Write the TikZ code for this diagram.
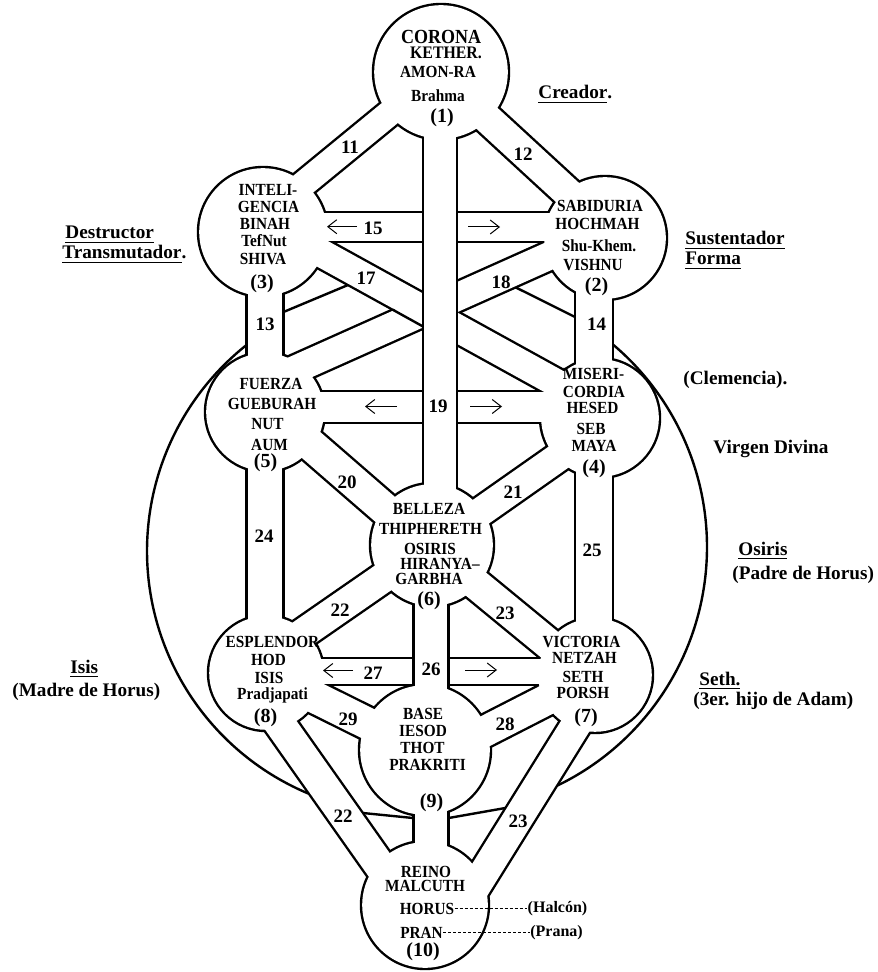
\documentclass[tikz,border=0pt]{standalone}
\usepackage{fontspec}
\setmainfont{Liberation Serif}
\newfontfamily\sefont{Liberation Serif}[FakeStretch=0.9]
\usetikzlibrary{arrows.meta}
\tikzset{
  sef/.style={font=\sefont\bfseries\fontsize{8.5}{10}\selectfont, inner sep=0pt, anchor=base},
  sefbig/.style={sef, font=\sefont\bfseries\fontsize{10}{12}\selectfont},
  sefmid/.style={sef, font=\sefont\bfseries\fontsize{8.8}{10}\selectfont},
  num/.style={font=\bfseries\fontsize{10}{12}\selectfont, inner sep=0pt, anchor=base},
  chan/.style={font=\bfseries\fontsize{9.5}{11}\selectfont, inner sep=0pt, anchor=base},
  side/.style={font=\bfseries\fontsize{9.6}{11}\selectfont, inner sep=0pt, anchor=base west},
  smalllab/.style={font=\bfseries\fontsize{8}{10}\selectfont, inner sep=0pt, anchor=base},
  outl/.style={line width=1.2pt, black},
  harrow/.style={line width=0.5pt, -{Straight Barb[length=4.5pt,width=7pt]}},
  leader/.style={line width=0.5pt, dash pattern=on 1.5pt off 1pt},
}
\begin{document}
\begin{tikzpicture}[x=0.5pt,y=-0.5pt]
\useasboundingbox (0,0) rectangle (877,972);
\fill[white] (0,0) rectangle (877,972);

% ---------- black pass (outline of the union) ----------
\foreach \cx/\cy/\rad in {441/72/68, 605/238/62, 263/232/65, 600/418/60, 265/412/60,
                          432/545/62, 595/675/58, 266/673/58, 425/750/66, 425/905/64}{
  \pgfmathsetmacro\rr{\rad*0.5+0.6}
  \fill[black] (\cx,\cy) circle[radius=\rr pt];
}
\foreach \xa/\ya/\xb/\yb/\bw in {440/72/440/545/34, 431/545/431/905/35,
   265/232/265/673/37, 594/238/594/675/38,
   263/227/605/227/30, 265/407/600/407/32, 266/671.5/595/671.5/27,
   441/71/262/218/28, 441/76/605/227/32,
   263/221/600/407/30, 605/231/265/383/30,
   265/405/432/550/34, 600/428/432/546/31,
   432/544/266/659/32, 432/548/595/682/33,
   595/675/425/762/33, 266/673/425/752/34,
   244/673/404/900/33, 607/675/464/905/32}{
  \pgfmathsetmacro\ww{\bw*0.5+1.2}
  \draw[black, line width=\ww pt] (\xa,\ya) -- (\xb,\yb);
}

% ---------- lines lying outside the union ----------
\draw[outl] plot[domain=111:234, samples=100, smooth] ({410+263*cos(\x)},{551+263*sin(\x)});
\draw[outl] plot[domain=-52:65, samples=100, smooth] ({442+265*cos(\x)},{547+265*sin(\x)});
\draw[outl] (278,314.3) -- (353.5,282.7);
\draw[outl] (510.3,284.7) -- (580.4,319.7);
\draw[outl] (357,812.4) -- (419,818.6);
\draw[outl] (443,819) -- (511,807);

% ---------- white pass ----------
\foreach \cx/\cy/\rad in {441/72/68, 605/238/62, 263/232/65, 600/418/60, 265/412/60,
                          432/545/62, 595/675/58, 266/673/58, 425/750/66, 425/905/64}{
  \pgfmathsetmacro\rr{\rad*0.5-0.6}
  \fill[white] (\cx,\cy) circle[radius=\rr pt];
}
\foreach \xa/\ya/\xb/\yb/\bw in {440/72/440/545/34, 431/545/431/905/35,
   265/232/265/673/37, 594/238/594/675/38,
   263/227/605/227/30, 265/407/600/407/32, 266/671.5/595/671.5/27,
   441/71/262/218/28, 441/76/605/227/32,
   263/221/600/407/30, 605/231/265/383/30,
   265/405/432/550/34, 600/428/432/546/31,
   432/544/266/659/32, 432/548/595/682/33,
   595/675/425/762/33, 266/673/425/752/34,
   244/673/404/900/33, 607/675/464/905/32}{
  \pgfmathsetmacro\ww{\bw*0.5-1.2}
  \draw[white, line width=\ww pt] (\xa,\ya) -- (\xb,\yb);
}

% ---------- lines drawn over the channels ----------
\draw[outl] (423,137.6) -- (423,483.7);
\draw[outl] (457,138.1) -- (457,488.3);
\draw[outl] (413.5,604.2) -- (413.5,685);
\draw[outl] (448.5,604.8) -- (448.5,688.3);
\draw[outl] (392.5,309.6) -- (423,326.5);

% ---------- arrows in channels 15, 19, 27 ----------
\draw[harrow] (357,226.7) -- (327,226.7);
\draw[harrow] (468,227) -- (500,227);
\draw[harrow] (397,406.5) -- (365,406.5);
\draw[harrow] (470,406.5) -- (502,406.5);
\draw[harrow] (353,670.5) -- (323,670.5);
\draw[harrow] (465,670) -- (497,670);

% ---------- sephiroth texts ----------
\node[sefbig] (t1a) at (441,43.1) {CORONA};
\node[sefmid] (t1b) at (446,58.8) {KETHER.};
\node[sef] (t1c) at (438,77.6) {AMON-RA};
\node[sef] (t1d) at (438,101.6) {Brahma};
\node[num] (t1e) at (442,122.6) {(1)};

\node[sef] (t3a) at (268,195.6) {INTELI-};
\node[sef] (t3b) at (268.5,212.6) {GENCIA};
\node[sef] (t3c) at (265,229.6) {BINAH};
\node[sef] (t3d) at (264,246.6) {TefNut};
\node[sef] (t3e) at (263,264.1) {SHIVA};
\node[num] (t3f) at (262,288.1) {(3)};

\node[sef] (t2a) at (600,211.1) {SABIDURIA};
\node[sef] (t2b) at (597.5,229.6) {HOCHMAH};
\node[sef] (t2c) at (599,251.1) {Shu-Khem.};
\node[sef] (t2d) at (593,270.1) {VISHNU};
\node[num] (t2e) at (596.5,291.6) {(2)};

\node[sef] (t5a) at (271,389.6) {FUERZA};
\node[sef] (t5b) at (272,409.6) {GUEBURAH};
\node[sef] (t5c) at (267.5,429.6) {NUT};
\node[sef] (t5d) at (269.5,450.1) {AUM};
\node[num] (t5e) at (265.5,467.6) {(5)};

\node[sef] (t4a) at (593.5,379.6) {MISERI-};
\node[sef] (t4b) at (594,397.1) {CORDIA};
\node[sef] (t4c) at (592.5,413.1) {HESED};
\node[sef] (t4d) at (591,434.1) {SEB};
\node[sef] (t4e) at (594,451.1) {MAYA};
\node[num] (t4f) at (594,473.1) {(4)};

\node[sef] (t6a) at (429,514.1) {BELLEZA};
\node[sef] (t6b) at (430.5,534.1) {THIPHERETH};
\node[sef] (t6c) at (430,554.6) {OSIRIS};
\node[sef] (t6d) at (440,569.6) {HIRANYA–};
\node[sef] (t6e) at (429,584.1) {GARBHA};
\node[num] (t6f) at (429,605.1) {(6)};

\node[sef] (t8a) at (272.5,647.6) {ESPLENDOR};
\node[sef] (t8b) at (268.5,665.6) {HOD};
\node[sef] (t8c) at (269,683.1) {ISIS};
\node[sef] (t8d) at (272.5,699) {Pradjapati};
\node[num] (t8e) at (265.5,722.1) {(8)};

\node[sef] (t7a) at (581.5,647.6) {VICTORIA};
\node[sef] (t7b) at (584.5,663.1) {NETZAH};
\node[sef] (t7c) at (583,682.1) {SETH};
\node[sef] (t7d) at (583,698.6) {PORSH};
\node[num] (t7e) at (586,722.1) {(7)};

\node[sef] (t9a) at (423,719.1) {BASE};
\node[sef] (t9b) at (423,736.6) {IESOD};
\node[sef] (t9c) at (422.5,753.1) {THOT};
\node[sef] (t9d) at (427.5,770.6) {PRAKRITI};
\node[num] (t9e) at (431.5,807.6) {(9)};

\node[sef] (t10a) at (426,877.6) {REINO};
\node[sef] (t10b) at (425,891.6) {MALCUTH};
\node[sef] (t10c) at (427,914.1) {HORUS};
\node[sef] (t10d) at (421.5,938.1) {PRAN};
\node[num] (t10e) at (423,956.6) {(10)};

\node[smalllab] (halcon) at (557.5,912.7) {(Halcón)};
\node[smalllab] (prana) at (556.5,936.7) {(Prana)};
\draw[leader] (t10c.east) -- (t10c.east -| halcon.west);
\draw[leader] (t10d.east) -- (t10d.east -| prana.west);

% ---------- channel numbers ----------
\node[chan] (c11) at (350,153.4) {11};
\node[chan] (c12) at (523,160.4) {12};
\node[chan] (c15) at (373,234.9) {15};
\node[chan] (c17) at (366,284.9) {17};
\node[chan] (c18) at (501,288.9) {18};
\node[chan] (c13) at (265,330.4) {13};
\node[chan] (c14) at (596.5,330.9) {14};
\node[chan] (c19) at (438,412.4) {19};
\node[chan] (c20) at (347,488.4) {20};
\node[chan] (c21) at (513,498.4) {21};
\node[chan] (c24) at (264,542.4) {24};
\node[chan] (c25) at (592,556.4) {25};
\node[chan] (c22a) at (340,616.4) {22};
\node[chan] (c23a) at (505,619.4) {23};
\node[chan] (c27) at (373,679.4) {27};
\node[chan] (c26) at (431,675.4) {26};
\node[chan] (c29) at (348,725.4) {29};
\node[chan] (c28) at (505,730.4) {28};
\node[chan] (c22b) at (343,822.4) {22};
\node[chan] (c23b) at (518,827.4) {23};

% ---------- side labels ----------
\node[side] (l1) at (538,99) {\underline{Creador}.};
\node[side] (l2) at (65,239) {\underline{Destructor}};
\node[side] (l3) at (62,259) {\underline{Transmutador}.};
\node[side] (l4) at (685,245) {\underline{Sustentador}};
\node[side] (l5) at (685,265) {\underline{Forma}};
\node[side] (l6) at (683,384) {(Clemencia).};
\node[side] (l7) at (713,453) {Virgen Divina};
\node[side] (l8) at (738,555) {\underline{Osiris}};
\node[side] (l9) at (732,579) {(Padre de Horus)};
\node[side] (l10) at (70,673) {\underline{Isis}};
\node[side] (l11) at (12,696) {(Madre de Horus)};
\node[side] (l12) at (699,685) {\underline{Seth.}};
\node[side] (l13) at (693,705) {(3er. hijo de Adam)};
\end{tikzpicture}
\end{document}
